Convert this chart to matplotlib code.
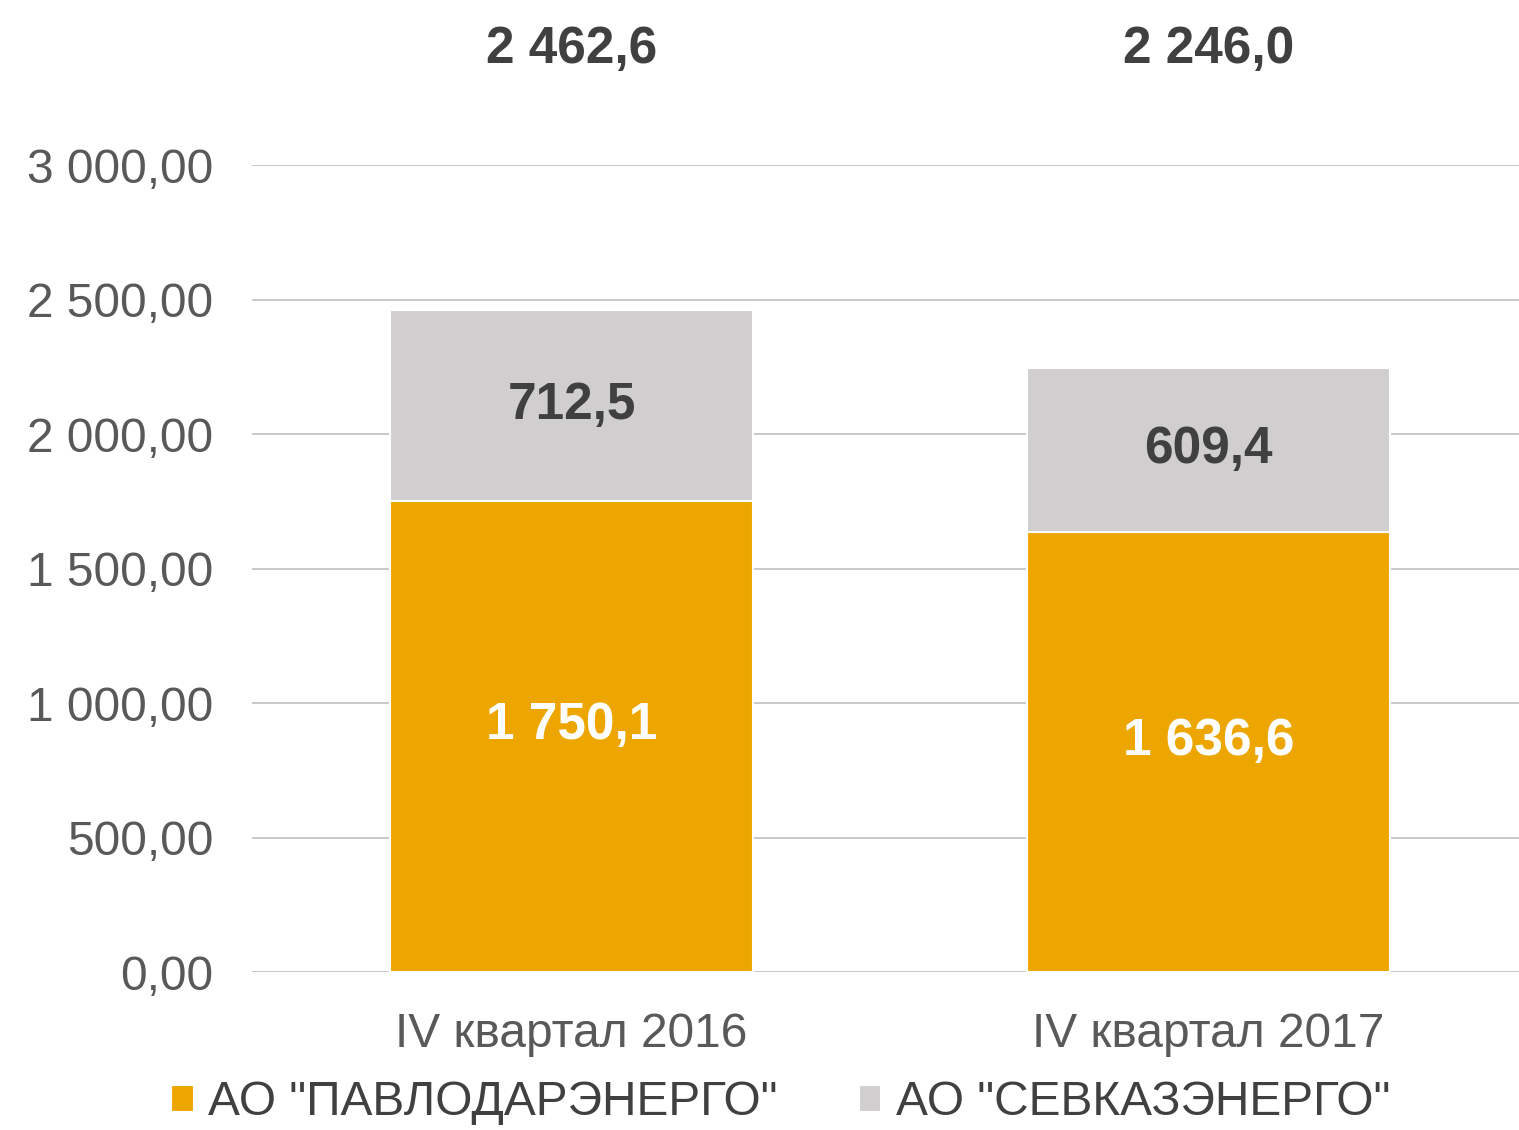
import numpy as np
import matplotlib.pyplot as plt

plt.rcParams['font.family'] = ['Liberation Sans', 'DejaVu Sans']

# data
categories = ["IV квартал 2016", "IV квартал 2017"]
pavlodar = [1750.1, 1636.6]
sevkaz = [712.5, 609.4]
totals = [2462.6, 2246.0]
series_names = ['АО "ПАВЛОДАРЭНЕРГО"', 'АО "СЕВКАЗЭНЕРГО"']

orange = "#EDA500"
gray = "#D0CECE"
dark = "#404040"


def fmt(v, dec):
    s = f"{v:,.{dec}f}"
    return s.replace(",", " ").replace(".", ",")


fig = plt.figure(figsize=(15.19, 11.30), dpi=100)
ax = fig.add_axes([0.1659, 0.1398, 0.8341, 0.714])

x = np.arange(len(categories))
w = 0.57
ax.bar(x, pavlodar, w, color=orange, edgecolor="white", linewidth=1.5,
       label=series_names[0], zorder=3)
ax.bar(x, sevkaz, w, bottom=pavlodar, color=gray, edgecolor="white",
       linewidth=1.5, label=series_names[1], zorder=3)

ax.set_xlim(-0.5016, 1.4874)
ax.set_ylim(0, 3000)
ticks = np.arange(0, 3001, 500)
ax.set_yticks(ticks)
ax.set_yticklabels([fmt(v, 2) for v in ticks])
ax.set_xticks(x)
ax.set_xticklabels(categories)
ax.tick_params(axis="both", length=0, labelsize=34.5, colors="#595959")
ax.tick_params(axis="y", pad=28)
ax.tick_params(axis="x", pad=29)
ax.grid(axis="y", color="#BFBFBF", linewidth=1.2, zorder=0)
for s in ax.spines.values():
    s.set_visible(False)

for i in range(len(categories)):
    ax.text(x[i], pavlodar[i] / 2 + 40, fmt(pavlodar[i], 1), ha="center", va="center",
            fontsize=37, fontweight="bold", color="white", zorder=4)
    ax.text(x[i], pavlodar[i] + sevkaz[i] / 2, fmt(sevkaz[i], 1), ha="center",
            va="center", fontsize=37, fontweight="bold", color=dark, zorder=4)
    ax.text(x[i], 3430, fmt(totals[i], 1), ha="center", va="center",
            fontsize=37, fontweight="bold", color=dark, clip_on=False)

fig.legend(loc="center left", bbox_to_anchor=(0.1, 0.024), ncol=2, frameon=False,
           fontsize=34.5, handlelength=0.47, handleheight=0.47, handletextpad=0.3,
           columnspacing=1.7, labelcolor="#404040", borderaxespad=0)

fig.savefig("out.png", dpi=100)
